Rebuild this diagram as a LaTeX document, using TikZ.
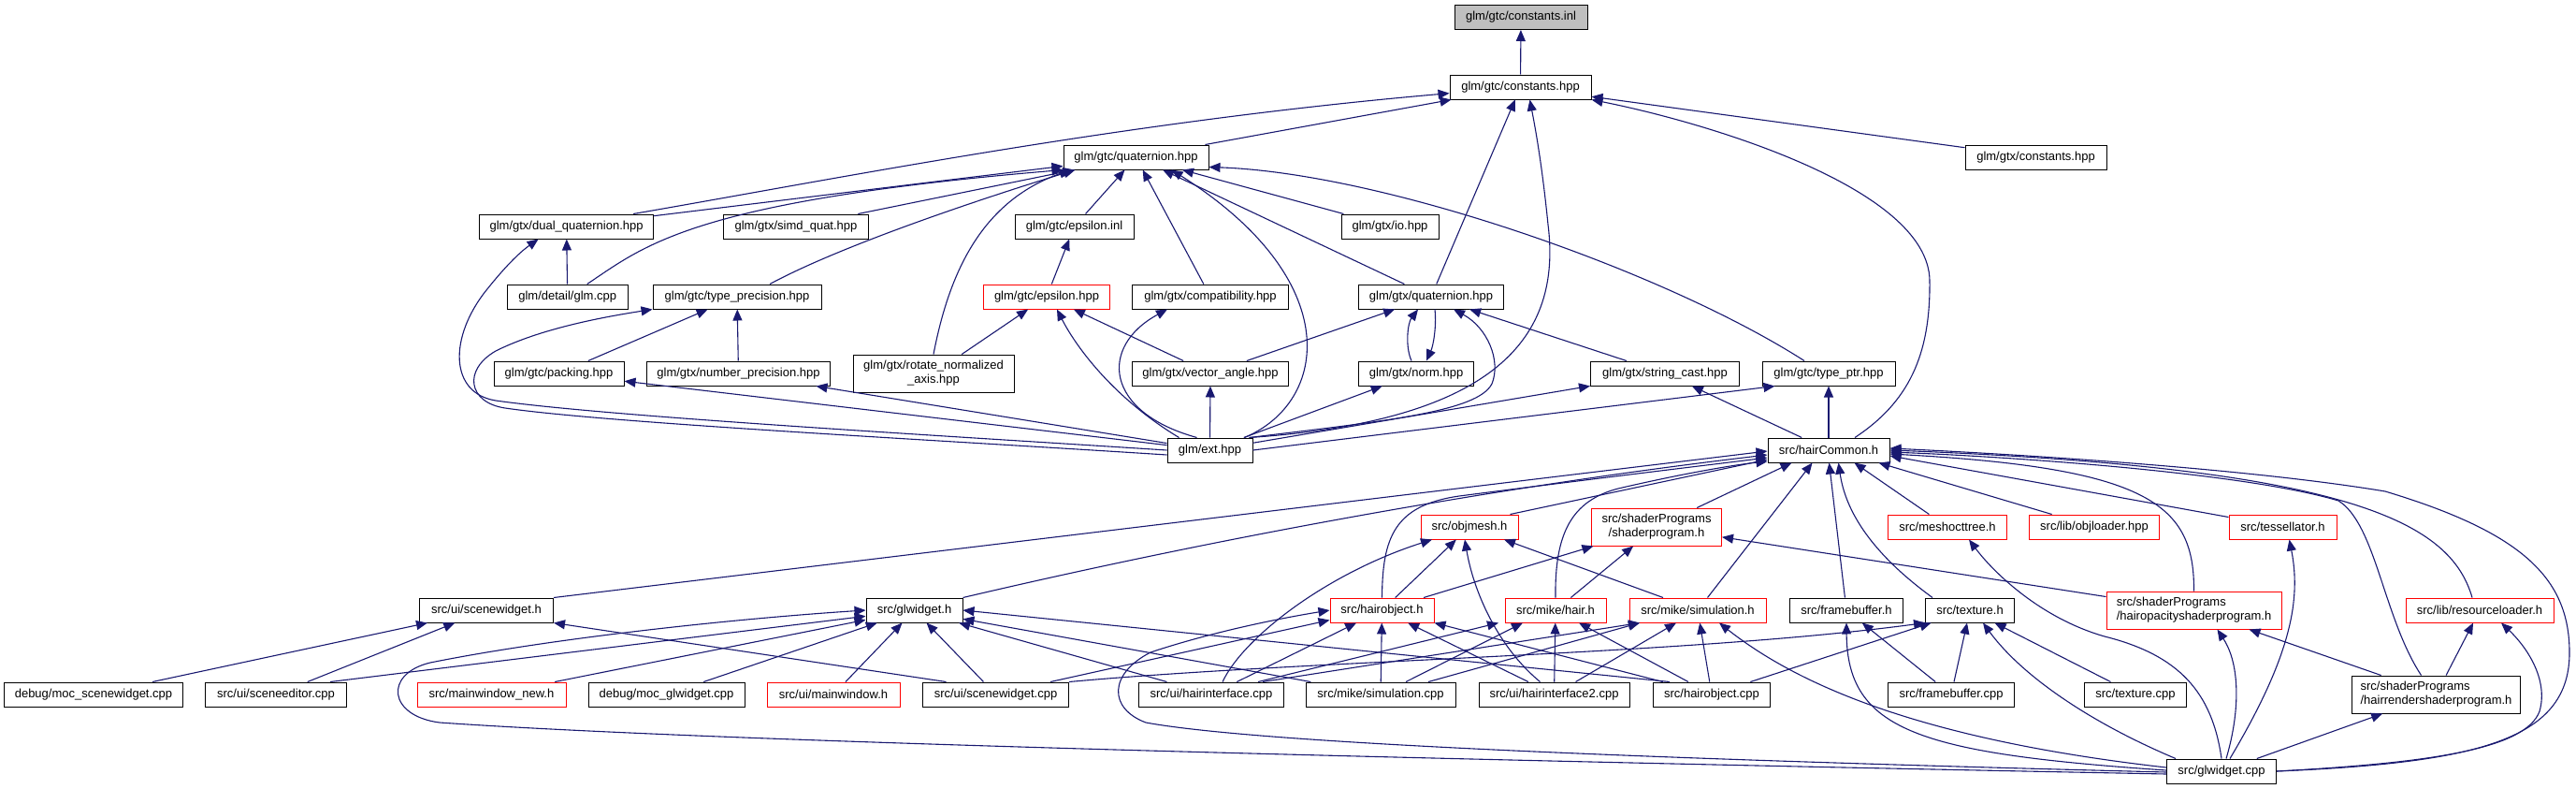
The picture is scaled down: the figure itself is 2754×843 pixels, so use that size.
\documentclass[tikz,border=0pt]{standalone}
\usepackage{fontspec}
\setmainfont{Liberation Sans}
\usetikzlibrary{arrows.meta,calc}
\definecolor{edgeblue}{HTML}{191970}
\definecolor{rootgray}{HTML}{BFBFBF}
\definecolor{boxred}{HTML}{FF0000}
\tikzset{
 box/.style={draw=black, line width=1pt, fill=white, inner sep=0pt, minimum height=26pt, font=\fontsize{13}{15}\selectfont, align=center, text=black},
 rbox/.style={box, draw=boxred},
 dep/.style={draw=edgeblue, line width=1.1pt, -{Triangle[length=12pt,width=10pt]}},
}
\begin{document}
\begin{tikzpicture}[x=1pt,y=-1pt]
\useasboundingbox (0,0) rectangle (2754,843);
% ---------- nodes ----------
\node[box,fill=rootgray,minimum width=142pt] (constinl) at (1626,18.5) {glm/gtc/constants.inl};
\node[box,minimum width=151pt] (consthpp) at (1625.5,93) {glm/gtc/constants.hpp};
\node[box,minimum width=155pt] (gtcquat) at (1214.5,168) {glm/gtc/quaternion.hpp};
\node[box,minimum width=151pt] (gtxconst) at (2176.5,168) {glm/gtx/constants.hpp};
\node[box,minimum width=186pt] (dualquat) at (605.6,242) {glm/gtx/dual\_quaternion.hpp};
\node[box,minimum width=155pt] (simd) at (851,242) {glm/gtx/simd\_quat.hpp};
\node[box,minimum width=127pt] (epsinl) at (1148.5,242) {glm/gtc/epsilon.inl};
\node[box,minimum width=104pt] (io) at (1486,242) {glm/gtx/io.hpp};
\node[box,minimum width=129pt] (glmcpp) at (606.7,317) {glm/detail/glm.cpp};
\node[box,minimum width=180pt] (typeprec) at (788,317) {glm/gtc/type\_precision.hpp};
\node[rbox,minimum width=135pt] (epshpp) at (1119,317) {glm/gtc/epsilon.hpp};
\node[box,minimum width=167pt] (compat) at (1294,317) {glm/gtx/compatibility.hpp};
\node[box,minimum width=155pt] (gtxquat) at (1530,317) {glm/gtx/quaternion.hpp};
\node[box,minimum width=139pt] (packing) at (597.5,399) {glm/gtc/packing.hpp};
\node[box,minimum width=196pt] (numprec) at (789.5,399) {glm/gtx/number\_precision.hpp};
\node[box,minimum width=172pt,minimum height=40pt] (rotnorm) at (998,399) {glm/gtx/rotate\_normalized\\\_axis.hpp};
\node[box,minimum width=167pt] (vecangle) at (1294,399) {glm/gtx/vector\_angle.hpp};
\node[box,minimum width=123pt] (norm) at (1514,399) {glm/gtx/norm.hpp};
\node[box,minimum width=159pt] (strcast) at (1780,399) {glm/gtx/string\_cast.hpp};
\node[box,minimum width=142pt] (typeptr) at (1955,399) {glm/gtc/type\_ptr.hpp};
\node[box,minimum width=91pt] (ext) at (1293.5,481) {glm/ext.hpp};
\node[box,minimum width=130pt] (hairCommon) at (1955,481) {src/hairCommon.h};
\node[rbox,minimum width=104pt] (objmesh) at (1571,563) {src/objmesh.h};
\node[rbox,minimum width=139pt,minimum height=40pt] (shaderprog) at (1771,563) {src/shaderPrograms\\/shaderprogram.h};
\node[rbox,minimum width=127pt] (meshoct) at (2082,563) {src/meshocttree.h};
\node[rbox,minimum width=139pt] (objloader) at (2239,563) {src/lib/objloader.hpp};
\node[rbox,minimum width=115pt] (tessel) at (2440.5,563) {src/tessellator.h};
\node[box,minimum width=143pt] (scenewidgeth) at (520,652) {src/ui/scenewidget.h};
\node[box,minimum width=103pt] (glwidgeth) at (977.5,652) {src/glwidget.h};
\node[rbox,minimum width=111pt] (hairobjh) at (1477.5,652) {src/hairobject.h};
\node[rbox,minimum width=108pt] (hairh) at (1663,652) {src/mike/hair.h};
\node[rbox,minimum width=146pt] (simh) at (1815,652) {src/mike/simulation.h};
\node[box,minimum width=121pt] (framebufh) at (1974,652) {src/framebuffer.h};
\node[box,minimum width=95pt] (textureh) at (2106,652) {src/texture.h};
\node[rbox,minimum width=187pt,minimum height=40pt,align=left] (hairopac) at (2345.5,652) {src/shaderPrograms\\/hairopacityshaderprogram.h};
\node[rbox,minimum width=158pt] (resload) at (2651,652) {src/lib/resourceloader.h};
\node[box,minimum width=191pt] (mocscene) at (100,742) {debug/moc\_scenewidget.cpp};
\node[box,minimum width=151pt] (sceneeditor) at (295,742) {src/ui/sceneeditor.cpp};
\node[rbox,minimum width=159pt] (mainwinnew) at (525.5,742) {src/mainwindow\_new.h};
\node[box,minimum width=167pt] (mocgl) at (712.5,742) {debug/moc\_glwidget.cpp};
\node[rbox,minimum width=142pt] (mainwin) at (891,742) {src/ui/mainwindow.h};
\node[box,minimum width=156pt] (scenewidgetcpp) at (1064.5,742) {src/ui/scenewidget.cpp};
\node[box,minimum width=155pt] (hairintcpp) at (1295,742) {src/ui/hairinterface.cpp};
\node[box,minimum width=160pt] (simcpp) at (1476,742) {src/mike/simulation.cpp};
\node[box,minimum width=161pt] (hairint2) at (1661.5,742) {src/ui/hairinterface2.cpp};
\node[box,minimum width=125pt] (hairobjcpp) at (1830,742) {src/hairobject.cpp};
\node[box,minimum width=135pt] (framebufcpp) at (2086,742) {src/framebuffer.cpp};
\node[box,minimum width=109pt] (texturecpp) at (2283,742) {src/texture.cpp};
\node[box,minimum width=180pt,minimum height=40pt,align=left] (hairrend) at (2604.5,742) {src/shaderPrograms\\/hairrendershaderprogram.h};
\node[box,minimum width=117pt] (glwidgetcpp) at (2375,824) {src/glwidget.cpp};
% ---------- edges: top ----------
\draw[dep] (consthpp) -- (constinl);
\draw[dep] (gtcquat) -- (consthpp);
\draw[dep] ($(dualquat.north east)+(-22,0)$) .. controls (900,190) and (1200,130) .. (consthpp.185);
\draw[dep] (gtxquat) -- (consthpp);
\draw[dep] (gtxconst) -- (consthpp);
\draw[dep] ($(ext.north east)+(-4,0)$) .. controls (1600,450) and (1670,360) .. (1655,240) .. controls (1648,170) and (1640,130) .. ($(consthpp.south)+(10,0)$);
\draw[dep] ($(hairCommon.north)+(28,0)$) .. controls (2040,430) and (2064,380) .. (2063,300) .. controls (2062,200) and (1820,130) .. (consthpp.south east);
% gtc quaternion
\draw[dep] (dualquat) -- (gtcquat);
\draw[dep] ($(glmcpp.north)+(21,0)$) .. controls (690,262) and (740,215) .. (gtcquat.south west);
\draw[dep] (simd) -- (gtcquat);
\draw[dep] ($(typeprec.north)+(35,0)$) .. controls (900,262) and (1050,212) .. ($(gtcquat.south)+(-65,0)$);
\draw[dep] (rotnorm.north) .. controls (1015,290) and (1050,215) .. ($(gtcquat.south)+(-70,0)$);
\draw[dep] (epsinl) -- (gtcquat);
\draw[dep] (compat) -- (gtcquat);
\draw[dep] ($(typeptr.north)+(-26,0)$) .. controls (1780,290) and (1480,185) .. ($(gtcquat.south east)+(0,-3)$);
\draw[dep] (io) -- (gtcquat);
\draw[dep] (gtxquat) -- (gtcquat);
\draw[dep] ($(ext.north east)+(-9,0)$) .. controls (1420,430) and (1440,300) .. ($(gtcquat.south)+(38,0)$);
% dual quaternion / type precision
\draw[dep] (glmcpp) -- (dualquat);
\draw[dep] (ext.west) .. controls (1000,465) and (650,445) .. (530,428) .. controls (480,420) and (480,360) .. (520,310) .. controls (540,285) and (555,270) .. ($(dualquat.south)+(-30,0)$);
\draw[dep] ($(ext.west)+(0,5)$) .. controls (1000,470) and (650,452) .. (540,436) .. controls (500,430) and (495,395) .. (530,375) .. controls (580,350) and (650,338) .. (typeprec.south west);
\draw[dep] (packing) -- (typeprec);
\draw[dep] (numprec) -- (typeprec);
\draw[dep] (ext) -- (packing);
\draw[dep] (ext) -- (numprec);
% epsilon
\draw[dep] (epshpp) -- (epsinl);
\draw[dep] (rotnorm) -- (epshpp);
\draw[dep] (vecangle) -- (epshpp);
\draw[dep] ($(ext.north west)+(13,0)$) .. controls (1190,425) and (1150,370) .. ($(epshpp.south)+(11,0)$);
\draw[dep] ($(ext.north west)+(32,0)$) .. controls (1180,440) and (1175,370) .. ($(compat.south)+(-46,0)$);
\draw[dep] (ext) -- (vecangle);
% gtx quaternion
\draw[dep] (vecangle) -- (gtxquat);
\draw[dep] ($(norm.north)+(-5,0)$) .. controls (1502,370) and (1505,345) .. ($(gtxquat.south)+(-14,0)$);
\draw[dep] ($(gtxquat.south)+(4,0)$) .. controls (1536,350) and (1532,370) .. ($(norm.north)+(11,0)$);
\draw[dep] (strcast) -- (gtxquat);
\draw[dep] ($(ext.north east)+(-4,0)$) .. controls (1480,450) and (1580,440) .. (1595,410) .. controls (1605,385) and (1590,350) .. ($(gtxquat.south)+(24,0)$);
\draw[dep] (ext) -- (norm);
\draw[dep] (ext) -- (strcast);
\draw[dep] (ext.east) -- ($(typeptr.south west)+(14,0)$);
\draw[dep] (hairCommon) -- (strcast);
\draw[dep] (hairCommon) -- (typeptr);
% ---------- hairCommon incoming ----------
\draw[dep] (scenewidgeth.north east) -- ($(hairCommon.west)+(0,1)$);
\draw[dep] (glwidgeth.north east) .. controls (1300,575) and (1600,520) .. ($(hairCommon.west)+(0,5)$);
\draw[dep] (hairobjh.north) .. controls (1478,575) and (1490,540) .. (1560,530) .. controls (1700,512) and (1800,500) .. ($(hairCommon.west)+(0,8)$);
\draw[dep] ($(objmesh.north east)+(-9,0)$) -- ($(hairCommon.west)+(0,10)$);
\draw[dep] (hairh.north) .. controls (1662,570) and (1680,535) .. (1730,522) .. controls (1790,508) and (1850,497) .. ($(hairCommon.west)+(0,12)$);
\draw[dep] (shaderprog) -- ($(hairCommon.south west)+(26,0)$);
\draw[dep] (simh) -- ($(hairCommon.south west)+(48,0)$);
\draw[dep] (framebufh) -- ($(hairCommon.south west)+(66,0)$);
\draw[dep] ($(textureh.north)+(-40,0)$) .. controls (2020,605) and (1975,560) .. ($(hairCommon.south west)+(76,0)$);
\draw[dep] (meshoct) -- ($(hairCommon.south west)+(93,0)$);
\draw[dep] (objloader) -- ($(hairCommon.south west)+(119,0)$);
\draw[dep] (tessel) -- ($(hairCommon.east)+(0,6)$);
\draw[dep] (hairopac.north) .. controls (2346,540) and (2300,500) .. ($(hairCommon.east)+(0,4)$);
\draw[dep] ($(hairrend.north)+(-16,0)$) .. controls (2548,660) and (2540,560) .. (2500,535) .. controls (2400,505) and (2150,488) .. ($(hairCommon.east)+(0,2)$);
\draw[dep] ($(resload.north)+(-8,0)$) .. controls (2620,560) and (2520,500) .. (hairCommon.east);
\draw[dep] (glwidgetcpp.east) .. controls (2650,815) and (2745,790) .. (2747,700) .. controls (2748,620) and (2700,570) .. (2550,525) .. controls (2400,500) and (2150,485) .. ($(hairCommon.east)+(0,-2)$);
% ---------- objmesh / shaderprogram ----------
\draw[dep] ($(hairintcpp.north)+(12,0)$) .. controls (1330,680) and (1420,612) .. ($(objmesh.south)+(-40,0)$);
\draw[dep] (hairobjh) -- (objmesh);
\draw[dep] ($(hairint2.north)+(-15,0)$) .. controls (1600,690) and (1575,630) .. ($(objmesh.south)+(-5,0)$);
\draw[dep] (simh) -- (objmesh);
\draw[dep] (hairobjh) -- (shaderprog);
\draw[dep] (hairh) -- (shaderprog);
\draw[dep] (hairopac) -- (shaderprog);
% ---------- scenewidget.h ----------
\draw[dep] (mocscene) -- (scenewidgeth);
\draw[dep] (sceneeditor) -- (scenewidgeth);
\draw[dep] ($(scenewidgetcpp.north)+(-53,0)$) -- (scenewidgeth.south east);
% ---------- glwidget.h ----------
\draw[dep] (mocgl) -- (glwidgeth);
\draw[dep] (mainwinnew) -- (glwidgeth);
\draw[dep] ($(sceneeditor.north)+(58,0)$) -- (glwidgeth);
\draw[dep] (mainwin) -- (glwidgeth);
\draw[dep] (scenewidgetcpp) -- (glwidgeth);
\draw[dep] (hairintcpp) -- (glwidgeth);
\draw[dep] (simcpp) -- (glwidgeth);
\draw[dep] ($(hairobjcpp.north)+(-45,0)$) -- (glwidgeth.east);
\draw[dep] ($(glwidgetcpp.west)+(0,3)$) .. controls (1700,815) and (800,795) .. (470,772) .. controls (415,765) and (410,720) .. (460,708) .. controls (600,680) and (800,660) .. (glwidgeth.west);
% ---------- hairobject.h ----------
\draw[dep] ($(glwidgetcpp.west)+(0,1)$) .. controls (1800,812) and (1350,795) .. (1225,772) .. controls (1185,757) and (1185,720) .. (1230,697) .. controls (1290,677) and (1360,662) .. (hairobjh.west);
\draw[dep] ($(scenewidgetcpp.north east)+(-20,0)$) -- ($(hairobjh.south west)+(0,-3)$);
\draw[dep] (hairintcpp) -- (hairobjh);
\draw[dep] (simcpp) -- (hairobjh);
\draw[dep] (hairint2) -- (hairobjh);
\draw[dep] (hairobjcpp) -- (hairobjh.south east);
% ---------- hair.h ----------
\draw[dep] ($(hairintcpp.north)+(50,0)$) -- ($(hairh.south)+(-61,0)$);
\draw[dep] ($(simcpp.north)+(27,0)$) -- ($(hairh.south)+(-35,0)$);
\draw[dep] (hairint2) -- (hairh);
\draw[dep] (hairobjcpp) -- (hairh);
% ---------- simulation.h ----------
\draw[dep] ($(hairintcpp.north)+(55,0)$) -- ($(simh.south)+(-62,0)$);
\draw[dep] ($(simcpp.north)+(51,0)$) -- ($(simh.south)+(-62,0)$);
\draw[dep] (hairint2) -- (simh);
\draw[dep] (hairobjcpp) -- (simh);
\draw[dep] ($(glwidgetcpp.west)+(0,-4)$) .. controls (2050,790) and (1920,730) .. ($(simh.south)+(23,0)$);
% ---------- framebuffer / texture ----------
\draw[dep] (framebufcpp) -- (framebufh);
\draw[dep] ($(glwidgetcpp.west)+(0,-1)$) .. controls (2050,805) and (1975,780) .. (framebufh.south);
\draw[dep] (framebufcpp) -- (textureh);
\draw[dep] (texturecpp) -- (textureh);
\draw[dep] ($(glwidgetcpp.north west)+(10,0)$) .. controls (2230,770) and (2160,720) .. ($(textureh.south)+(14,0)$);
\draw[dep] (scenewidgetcpp.north east) .. controls (1400,705) and (1800,700) .. (textureh.south west);
\draw[dep] (hairobjcpp) -- (textureh);
% ---------- glwidget.cpp to the right ----------
\draw[dep] (glwidgetcpp.north) .. controls (2365,740) and (2330,700) .. (2250,680) .. controls (2180,660) and (2130,610) .. ($(meshoct.south)+(23,0)$);
\draw[dep] ($(glwidgetcpp.north)+(9,0)$) .. controls (2450,700) and (2460,640) .. ($(tessel.south)+(7,0)$);
\draw[dep] ($(glwidgetcpp.north)+(5,0)$) .. controls (2395,760) and (2395,710) .. ($(hairopac.south)+(25,0)$);
\draw[dep] (glwidgetcpp) -- (hairrend);
\draw[dep] (glwidgetcpp.east) .. controls (2600,815) and (2700,800) .. (2715,760) .. controls (2725,725) and (2700,690) .. ($(resload.south)+(23,0)$);
\draw[dep] (hairrend) -- (hairopac);
\draw[dep] (hairrend) -- (resload);
\end{tikzpicture}
\end{document}
